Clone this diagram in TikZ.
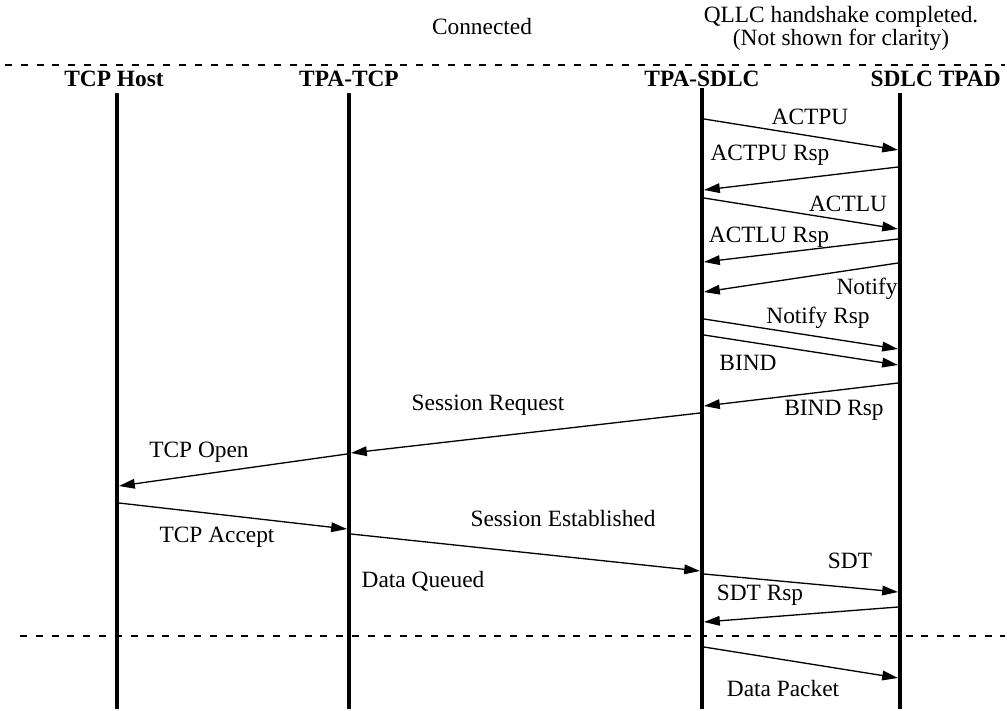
\documentclass[tikz,border=0pt]{standalone}
\usepackage{fontspec}
\setmainfont{Liberation Serif}
\usetikzlibrary{arrows.meta}
\tikzset{>={Triangle[length=9pt,width=5.5pt]}}
\tikzstyle{msg}=[->,line width=0.75pt]
\tikzstyle{life}=[line width=2.6pt]
\tikzstyle{sep}=[line width=1.4pt,dash pattern=on 4pt off 5pt]
\newcommand{\lblfont}{\fontsize{13.3}{13}\selectfont}

\begin{document}
\begin{tikzpicture}[x=0.02cm,y=-0.02cm]
  \tikzstyle{every node}=[font=\lblfont,inner sep=0]
  \useasboundingbox (0,0) rectangle (1007,710);
  \def\xH{117}
  \def\xT{349}
  \def\xS{702}
  \def\xD{900}

  % notes on top
  \node (conn) at (482,27) {Connected};
  \node[align=center] (qllc) at (841,28) {QLLC handshake completed.\\(Not shown for clarity)};
  \coordinate (sepAL) at (5,65);
  \coordinate (sepAR) at (1005,65);
  \draw[sep] (sepAL) -- (sepAR);

  % lifelines
  \node[font=\lblfont\bfseries] (host) at (114,79) {TCP Host};
  \node[font=\lblfont\bfseries] (tcp) at (\xT,79) {TPA-TCP};
  \node[font=\lblfont\bfseries] (sdlc) at (\xS,79) {TPA-SDLC};
  \node[font=\lblfont\bfseries,anchor=east] (tpad) at (1001,79) {SDLC TPAD};
  \foreach \nm/\x/\top in {host/\xH/93,tcp/\xT/93,sdlc/\xS/88,tpad/\xD/93}
  {
    \coordinate (\nm Top) at (\x,\top);
    \coordinate (\nm Bot) at (\x,709);
    \draw[life] (\nm Top) -- (\nm Bot);
  }

  % messages
  \foreach \n/\xa/\ya/\xb/\yb/\lx/\ly/\txt in {
    1/704/119/898/150/810/117/ACTPU,
    2/898/167/704/190/770/155/ACTPU Rsp,
    3/704/198/898/229/848/204/ACTLU,
    4/898/239/704/262/769/237/ACTLU Rsp,
    5/898/263/704/292/867/289/Notify,
    6/704/319/898/349/818/318/Notify Rsp,
    7/704/335/898/365/748/363/BIND,
    8/898/383/704/406/834/410/BIND Rsp,
    9/700/413/351/453/488/405/Session Request,
    10/347/454/119/486/199/452/TCP Open,
    11/119/503/347/529/217/537/TCP Accept,
    12/351/534/700/571/563/518/Session Established,
    13/704/574/898/592/850/561/SDT,
    14/898/607/704/622/760/595/SDT Rsp,
    15/704/647/898/678/783/688/Data Packet}
  {
    \coordinate (m\n a) at (\xa,\ya);
    \coordinate (m\n b) at (\xb,\yb);
    \draw[msg] (m\n a) -- (m\n b);
    \node (t\n) at (\lx,\ly) {\txt};
  }
  \node (queued) at (423,581) {Data Queued};

  % separator before data
  \coordinate (sepBL) at (20,636);
  \coordinate (sepBR) at (1005,636);
  \draw[sep] (sepBL) -- (sepBR);
\end{tikzpicture}
\end{document}
